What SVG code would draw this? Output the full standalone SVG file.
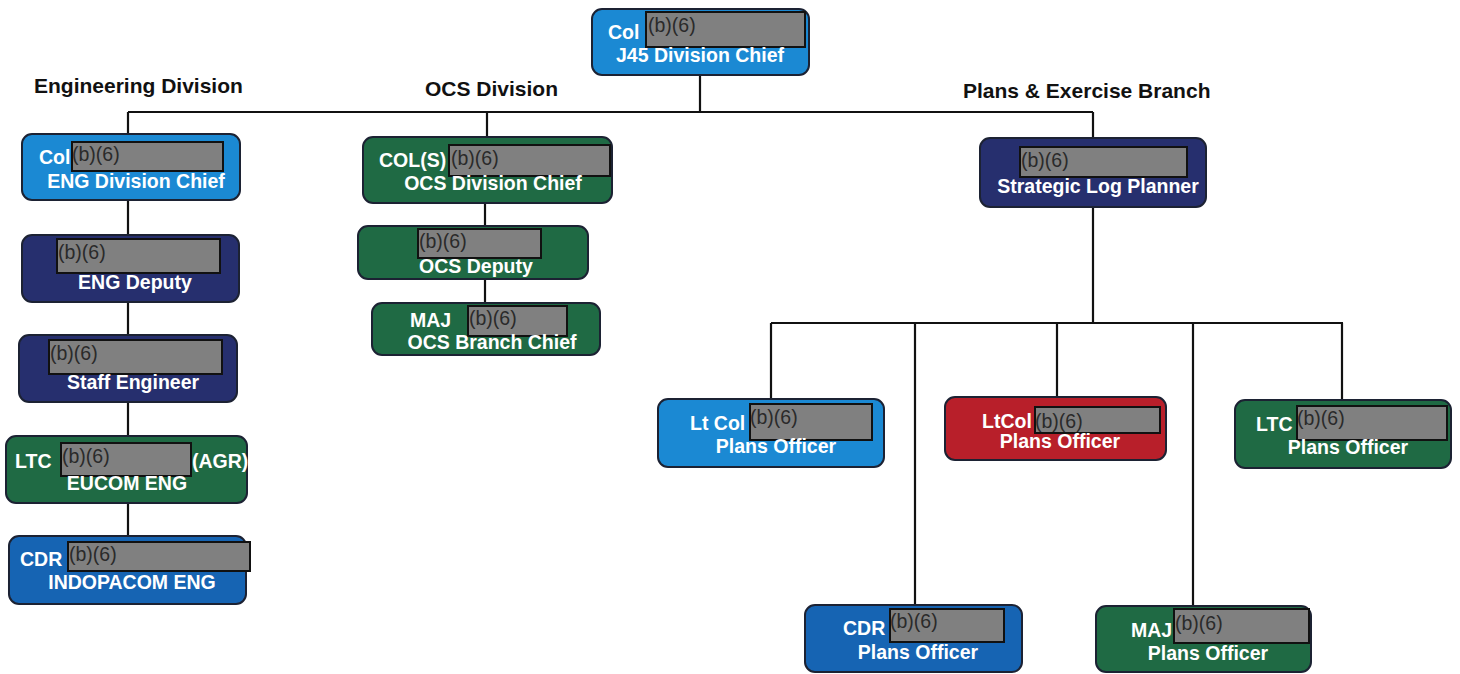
<svg xmlns="http://www.w3.org/2000/svg" width="1460" height="674" viewBox="0 0 1460 674">
<style>
.n{stroke:#1c2233;stroke-width:2}
.lb{fill:#1b89d3}
.db{fill:#1664b3}
.nv{fill:#262f6e}
.gr{fill:#1f6a44}
.rd{fill:#b81f2a}
.t{font-family:"Liberation Sans",Arial,sans-serif;font-weight:bold;font-size:19.5px;fill:#fff}
.m{text-anchor:middle}
.r{fill:#808080;stroke:#111;stroke-width:2}
.b{font-family:"Liberation Sans",Arial,sans-serif;font-size:19.5px;fill:#2a2a2a}
.h{font-family:"Liberation Sans",Arial,sans-serif;font-weight:bold;font-size:21px;fill:#111}
.c{stroke:#111;stroke-width:2.2;fill:none}
</style>
<rect width="1460" height="674" fill="#fff"/>
<g id="headings">
<text class="h" x="34" y="93">Engineering Division</text>
<text class="h" x="425" y="96">OCS Division</text>
<text class="h" x="963" y="98">Plans &amp; Exercise Branch</text>
</g>
<g id="connectors">
<path class="c" d="M700 75V112M128 112H1093M128 112V134M487 112V137M1093 112V138"/>
<path class="c" d="M128 200V536"/>
<path class="c" d="M485 203V303"/>
<path class="c" d="M1093 207V323M771 323H1343M771 323V399M915 323V605M1057 323V397M1193 323V606M1342 323V400"/>
</g>
<g id="j45">
<rect class="n lb" x="592" y="9" width="217" height="66" rx="10"/>
<text class="t" x="608" y="39">Col</text>
<rect class="r" x="646" y="12" width="159" height="35"/>
<text class="b" x="648" y="32">(b)(6)</text>
<text class="t m" x="700" y="62">J45 Division Chief</text>
</g>
<g id="eng-chief">
<rect class="n lb" x="22" y="134" width="218" height="66" rx="10"/>
<text class="t" x="39" y="164">Col</text>
<rect class="r" x="72" y="142" width="151" height="29"/>
<text class="b" x="72" y="161">(b)(6)</text>
<text class="t m" x="136" y="188">ENG Division Chief</text>
</g>
<g id="eng-deputy">
<rect class="n nv" x="22" y="235" width="217" height="67" rx="10"/>
<rect class="r" x="57" y="239" width="163" height="34"/>
<text class="b" x="58" y="259">(b)(6)</text>
<text class="t m" x="135" y="289">ENG Deputy</text>
</g>
<g id="staff-engineer">
<rect class="n nv" x="19" y="335" width="218" height="67" rx="10"/>
<rect class="r" x="49" y="340" width="173" height="34"/>
<text class="b" x="50" y="360">(b)(6)</text>
<text class="t m" x="133" y="389">Staff Engineer</text>
</g>
<g id="eucom-eng">
<rect class="n gr" x="6" y="436" width="241" height="67" rx="10"/>
<text class="t" x="15" y="468">LTC</text>
<rect class="r" x="61" y="443" width="130" height="33"/>
<text class="b" x="62" y="463">(b)(6)</text>
<text class="t" x="192" y="468">(AGR)</text>
<text class="t m" x="127" y="490">EUCOM ENG</text>
</g>
<g id="indopacom-eng">
<rect class="n db" x="9" y="536" width="237" height="68" rx="10"/>
<text class="t" x="20" y="566">CDR</text>
<rect class="r" x="68" y="542" width="182" height="29"/>
<text class="b" x="69" y="561">(b)(6)</text>
<text class="t m" x="132" y="589">INDOPACOM ENG</text>
</g>
<g id="ocs-chief">
<rect class="n gr" x="363" y="137" width="249" height="66" rx="10"/>
<text class="t" x="379" y="167">COL(S)</text>
<rect class="r" x="449" y="145" width="161" height="31"/>
<text class="b" x="451" y="165">(b)(6)</text>
<text class="t m" x="493" y="190">OCS Division Chief</text>
</g>
<g id="ocs-deputy">
<rect class="n gr" x="358" y="226" width="230" height="53" rx="10"/>
<rect class="r" x="418" y="229" width="123" height="29"/>
<text class="b" x="419" y="248">(b)(6)</text>
<text class="t m" x="476" y="273">OCS Deputy</text>
</g>
<g id="ocs-branch-chief">
<rect class="n gr" x="372" y="303" width="228" height="52" rx="10"/>
<text class="t" x="410" y="327">MAJ</text>
<rect class="r" x="468" y="306" width="99" height="30"/>
<text class="b" x="469" y="325">(b)(6)</text>
<text class="t m" x="492" y="349">OCS Branch Chief</text>
</g>
<g id="strategic-log-planner">
<rect class="n nv" x="980" y="138" width="226" height="69" rx="10"/>
<rect class="r" x="1020" y="147" width="167" height="30"/>
<text class="b" x="1021" y="167">(b)(6)</text>
<text class="t m" x="1098" y="193">Strategic Log Planner</text>
</g>
<g id="plans-ltcol-1">
<rect class="n lb" x="658" y="399" width="226" height="68" rx="10"/>
<text class="t" x="690" y="430">Lt Col</text>
<rect class="r" x="750" y="404" width="122" height="36"/>
<text class="b" x="750" y="424">(b)(6)</text>
<text class="t m" x="776" y="453">Plans Officer</text>
</g>
<g id="plans-ltcol-2">
<rect class="n rd" x="945" y="397" width="221" height="63" rx="10"/>
<text class="t" x="982" y="428">LtCol</text>
<rect class="r" x="1035" y="407" width="125" height="26"/>
<text class="b" x="1035" y="428">(b)(6)</text>
<text class="t m" x="1060" y="448">Plans Officer</text>
</g>
<g id="plans-ltc">
<rect class="n gr" x="1235" y="400" width="216" height="68" rx="10"/>
<text class="t" x="1256" y="431">LTC</text>
<rect class="r" x="1297" y="406" width="150" height="34"/>
<text class="b" x="1297" y="425">(b)(6)</text>
<text class="t m" x="1348" y="454">Plans Officer</text>
</g>
<g id="plans-cdr">
<rect class="n db" x="805" y="605" width="217" height="67" rx="10"/>
<text class="t" x="843" y="635">CDR</text>
<rect class="r" x="890" y="609" width="114" height="33"/>
<text class="b" x="890" y="628">(b)(6)</text>
<text class="t m" x="918" y="659">Plans Officer</text>
</g>
<g id="plans-maj">
<rect class="n gr" x="1096" y="606" width="215" height="66" rx="10"/>
<text class="t" x="1131" y="637">MAJ</text>
<rect class="r" x="1174" y="609" width="135" height="34"/>
<text class="b" x="1175" y="630">(b)(6)</text>
<text class="t m" x="1208" y="660">Plans Officer</text>
</g>
</svg>
